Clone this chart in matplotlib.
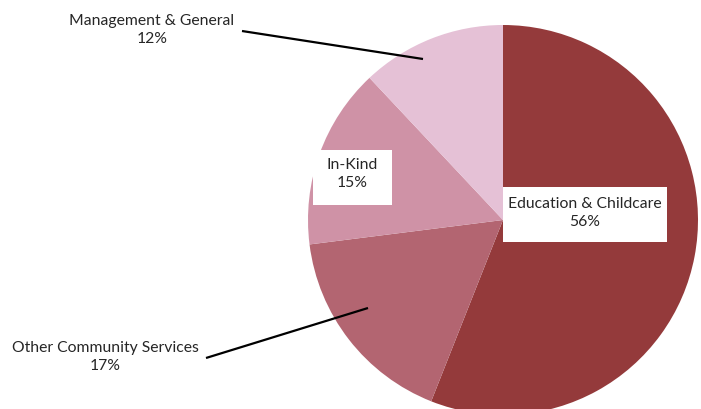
import matplotlib
matplotlib.use("Agg")
import matplotlib.pyplot as plt
from matplotlib.patches import Rectangle

categories = ["Education & Childcare", "Other Community Services", "In-Kind", "Management & General"]
values = [56, 17, 15, 12]
colors = ["#943A3B", "#B36571", "#CF92A6", "#E5C1D6"]

plt.rcParams['font.family'] = ['Lato', 'DejaVu Sans']
W, H = 701, 409
fig = plt.figure(figsize=(W/100, H/100), dpi=100)
ax = fig.add_axes([0, 0, 1, 1])

cx, cy, r = 503, 220, 195
# y axis is inverted, so counterclock=True in data coords renders clockwise on screen
ax.pie(values, colors=colors, startangle=-90, counterclock=True,
       center=(cx, cy), radius=r, frame=True,
       wedgeprops=dict(linewidth=0))
ax.set_xlim(0, W)
ax.set_ylim(H, 0)
ax.set_aspect('equal')
ax.axis('off')

tc = "#262626"
fs = 11.3
ls = 1.45
pct = [f"{v}%" for v in values]

# Education box
ax.add_patch(Rectangle((503, 187), 164, 55, facecolor='white', edgecolor='none', zorder=3))
ax.text(585, 213, f"{categories[0]}\n{pct[0]}", ha='center', va='center', fontsize=fs,
        color=tc, linespacing=ls, zorder=4)

# In-Kind box
ax.add_patch(Rectangle((313, 150), 79, 55, facecolor='white', edgecolor='none', zorder=3))
ax.text(352, 174, f"{categories[2]}\n{pct[2]}", ha='center', va='center', fontsize=fs,
        color=tc, linespacing=ls, zorder=4)

# Management leader
ax.plot([242, 423], [31, 59], color='black', lw=1.6, zorder=4, solid_capstyle='butt')
ax.text(152, 30, f"{categories[3]}\n{pct[3]}", ha='center', va='center', fontsize=fs,
        color=tc, linespacing=ls, zorder=4)

# Other leader
ax.plot([206, 368], [358, 308], color='black', lw=1.6, zorder=4, solid_capstyle='butt')
ax.text(105, 357, f"{categories[1]}\n{pct[1]}", ha='center', va='center', fontsize=fs,
        color=tc, linespacing=ls, zorder=4)

fig.savefig("out.png", dpi=100)
